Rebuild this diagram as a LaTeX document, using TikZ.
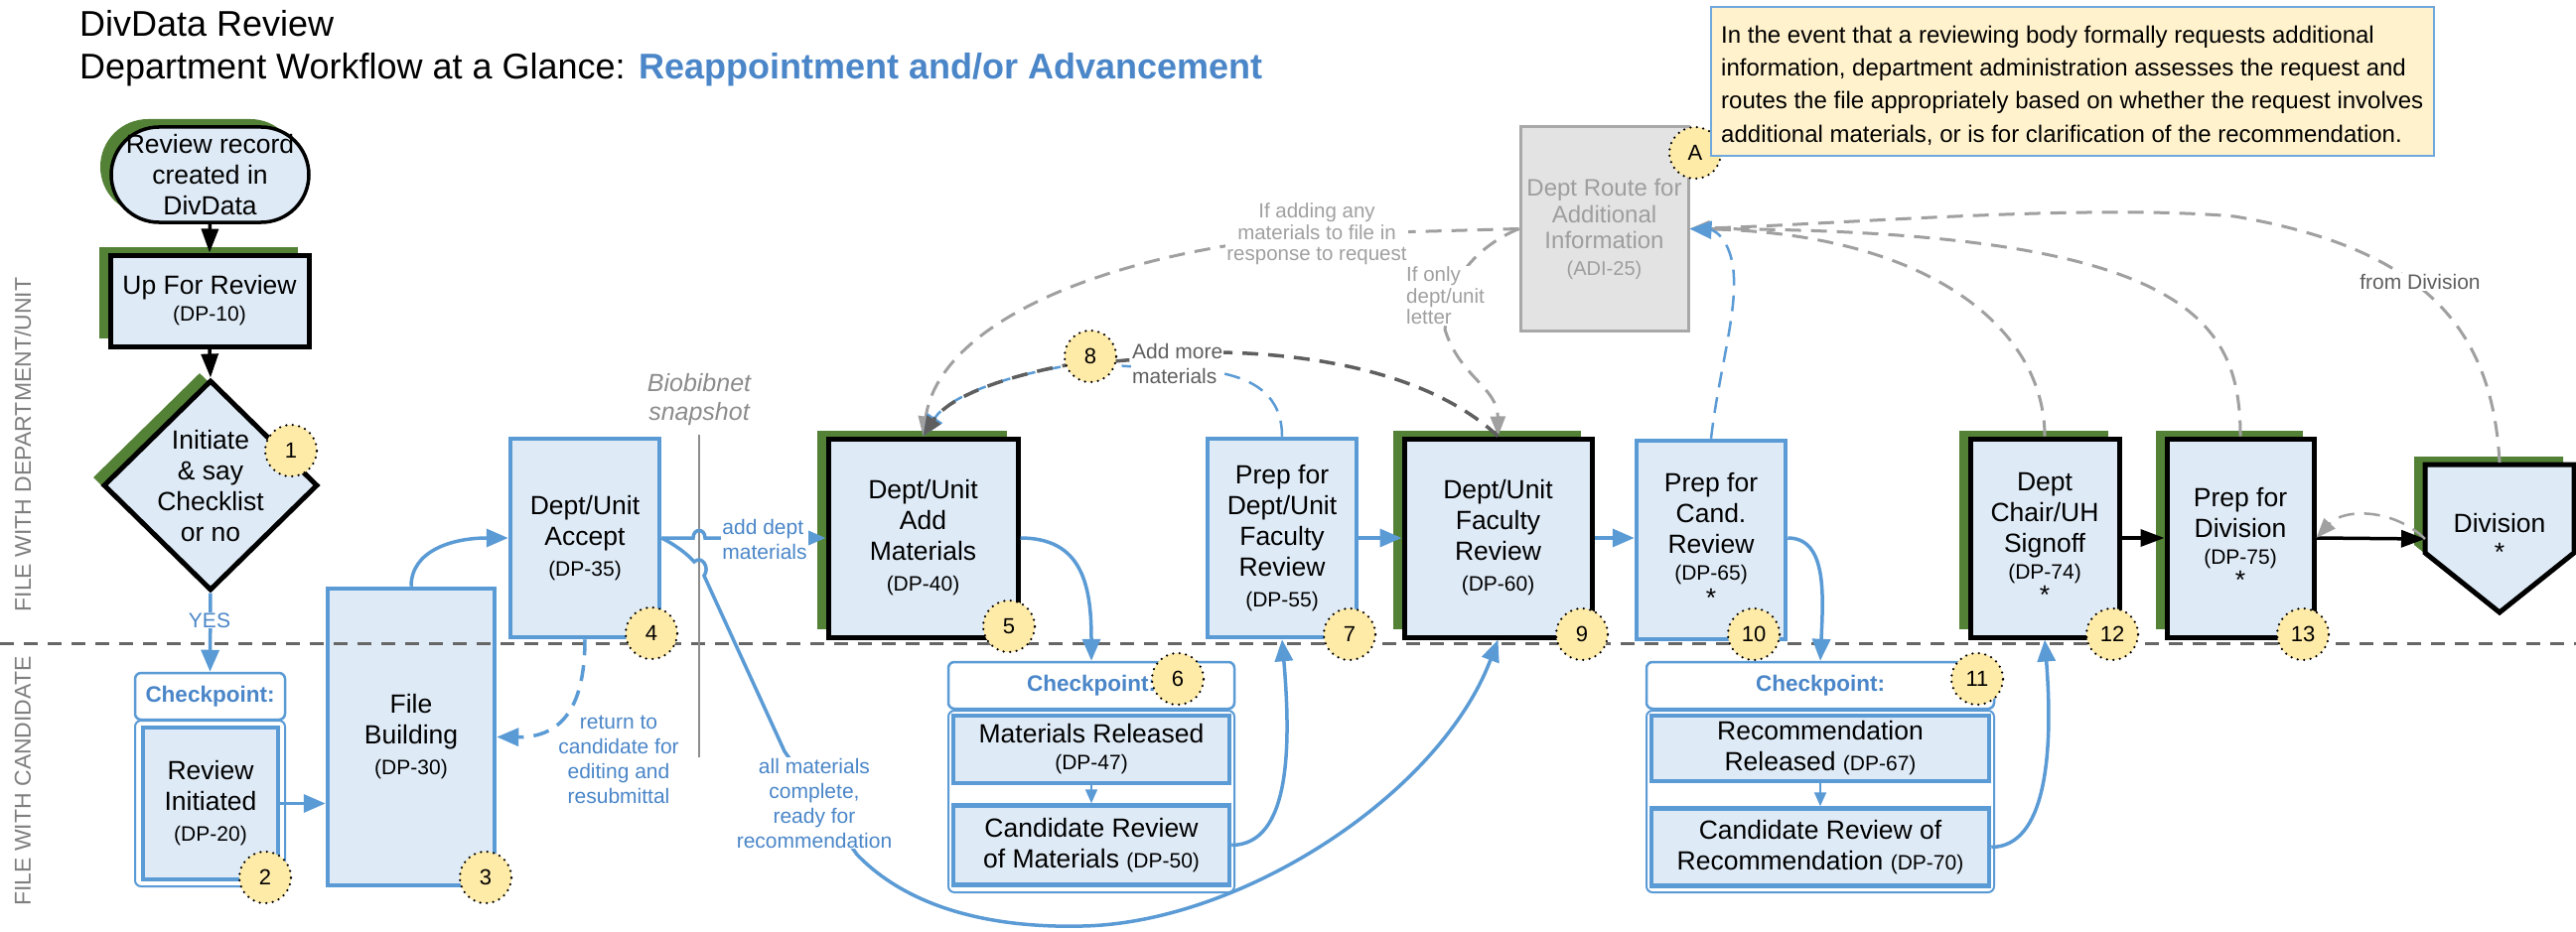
\documentclass[tikz,border=0pt]{standalone}
\usepackage{fontspec}
\setmainfont{Liberation Sans}
\usetikzlibrary{arrows.meta,shapes.geometric,shadows}
\definecolor{bfill}{HTML}{DEEAF6}
\definecolor{bblue}{HTML}{5B9BD5}
\definecolor{tblue}{HTML}{4A86C8}
\definecolor{gshad}{HTML}{538135}
\definecolor{badgey}{HTML}{FFEBA8}
\definecolor{notey}{HTML}{FFF2CC}
\definecolor{noteb}{HTML}{6FA8DC}
\definecolor{gline}{HTML}{A0A0A0}
\definecolor{dline}{HTML}{5F5F5F}
\definecolor{adifill}{HTML}{E3E3E3}
\definecolor{adibord}{HTML}{A8A8A8}
\definecolor{aditext}{HTML}{9E9E9E}
\definecolor{sepc}{HTML}{666666}
\definecolor{lanec}{HTML}{7F7F7F}
\definecolor{bbnc}{HTML}{8C8C8C}
\newcommand\dpf{\fontsize{21}{26}\selectfont}
\begin{document}
\begin{tikzpicture}[x=1pt,y=-1pt,
  boxfont/.style={font=\fontsize{26.5}{31}\selectfont},
  bluebox/.style={draw=bblue, line width=4.5pt, fill=bfill, align=center, inner sep=2pt, boxfont},
  blackbox/.style={draw=black, line width=5pt, fill=bfill, align=center, inner sep=2pt, boxfont,
     general shadow={fill=gshad, shadow xshift=-11pt, shadow yshift=8pt}},
  ckhead/.style={draw=bblue, line width=2.5pt, fill=white, rounded corners=6pt, text=tblue,
     font=\bfseries\fontsize{22.5}{26}\selectfont},
  ckbody/.style={draw=bblue, line width=2pt, fill=white, rounded corners=6pt},
  inbox/.style={draw=bblue, line width=4.5pt, fill=bfill, align=center, inner sep=2pt, boxfont},
  badge/.style={circle, fill=badgey, draw=black, line width=2.5pt, line cap=round,
     dash pattern=on 0pt off 6.5pt, minimum size=52pt, inner sep=0pt, font=\fontsize{22}{26}\selectfont},
  barrow/.style={draw=bblue, line width=3.5pt, -{Triangle[length=22pt,width=18pt]}},
  bdash/.style={barrow, dash pattern=on 16pt off 10pt},
  karrow/.style={draw=black, line width=3.5pt, -{Triangle[length=24pt,width=17pt]}},
  gdash/.style={draw=gline, line width=3pt, dash pattern=on 16pt off 10pt, -{Triangle[length=20pt,width=15pt]}},
  ddash/.style={draw=dline, line width=3.5pt, dash pattern=on 16pt off 10pt, -{Triangle[length=20pt,width=16pt]}},
  tlabel/.style={text=tblue, font=\fontsize{21}{25}\selectfont, align=center, inner sep=1pt},
  glabel/.style={text=gline, font=\fontsize{20.5}{21.5}\selectfont, inner sep=1pt, fill=white},
  lanelab/.style={rotate=90, text=lanec, font=\fontsize{23}{27}\selectfont}
]
\useasboundingbox (0,0) rectangle (2594,939);
\fill[white] (0,0) rectangle (2594,939);

% titles
\node[anchor=base west, font=\fontsize{36}{43}\selectfont, inner sep=0pt] (title1) at (80,37) {DivData Review};
\node[anchor=base west, font=\fontsize{36}{43}\selectfont, inner sep=0pt] (title2) at (80,80)
  {Department Workflow at a Glance: \textcolor{tblue}{\bfseries Reappointment and/or Advancement}};

% lane labels
\node[lanelab] (lane1) at (23,448) {FILE WITH DEPARTMENT/UNIT};
\node[lanelab] (lane2) at (23,787) {FILE WITH CANDIDATE};

% left column
\node[blackbox, rounded corners=48pt, line width=3.5pt, minimum width=199pt, minimum height=96pt] (term) at (211.5,176)
  {Review record\\created in\\DivData};
\node[blackbox, minimum width=200pt, minimum height=92pt] (upr) at (211,303) {Up For Review\\[-4pt]{\dpf (DP-10)}};
\node[blackbox, diamond, minimum width=216pt, minimum height=212pt, inner sep=0pt] (diam) at (212,489) {};
\node[align=center, boxfont, inner sep=0pt] (diamtxt) at (212,490) {Initiate\\\& say\\Checklist\\or no};

% checkpoint 2
\node[ckbody, minimum width=151pt, minimum height=167pt] (ckb2) at (211.5,809.5) {};
\node[ckhead, minimum width=151pt, minimum height=47pt] (ckh2) at (211.5,701.5) {Checkpoint:};
\node[inbox, minimum width=136pt, minimum height=153pt] (ri) at (212,809.5) {Review\\Initiated\\{\dpf (DP-20)}};

% file building / accept
\node[bluebox, minimum width=168pt, minimum height=299pt] (fb) at (414,742.5) {File\\Building\\{\dpf (DP-30)}};
\node[bluebox, minimum width=150pt, minimum height=200pt] (acc) at (589,542) {Dept/Unit\\Accept\\{\dpf (DP-35)}};
\node[blackbox, minimum width=191pt, minimum height=200pt] (addm) at (929.5,542) {Dept/Unit\\Add\\Materials\\{\dpf (DP-40)}};

% checkpoint 6
\node[ckbody, minimum width=288pt, minimum height=183pt] (ckb6) at (1099,807.5) {};
\node[ckhead, minimum width=288pt, minimum height=47pt] (ckh6) at (1099,690.5) {Checkpoint:};
\node[inbox, minimum width=278pt, minimum height=68pt] (mr) at (1099,755) {Materials Released\\[-4pt]{\dpf (DP-47)}};
\node[inbox, minimum width=278pt, minimum height=80pt] (crm) at (1099,851.5) {Candidate Review\\of Materials {\dpf (DP-50)}};

% middle boxes
\node[bluebox, minimum width=150pt, minimum height=200pt] (dp55) at (1291,542) {Prep for\\Dept/Unit\\Faculty\\Review\\{\dpf (DP-55)}};
\node[blackbox, minimum width=189pt, minimum height=200pt] (dp60) at (1508.5,542) {Dept/Unit\\Faculty\\Review\\{\dpf (DP-60)}};
\node[bluebox, minimum width=150pt, minimum height=200pt] (dp65) at (1723,544) {Prep for\\Cand.\\Review\\[-4pt]{\dpf (DP-65)}\\[-4pt]*};

% checkpoint 11
\node[ckbody, minimum width=350pt, minimum height=183pt] (ckb11) at (1833,807.5) {};
\node[ckhead, minimum width=350pt, minimum height=47pt] (ckh11) at (1833,690.5) {Checkpoint:};
\node[inbox, minimum width=340pt, minimum height=66pt] (rr) at (1833,754) {Recommendation\\Released {\dpf (DP-67)}};
\node[inbox, minimum width=340pt, minimum height=78pt] (crr) at (1833,853.5) {Candidate Review of\\Recommendation {\dpf (DP-70)}};

% right boxes
\node[blackbox, minimum width=150pt, minimum height=200pt] (dp74) at (2059,542) {Dept\\Chair/UH\\Signoff\\[-4pt]{\dpf (DP-74)}\\[-6pt]*};
\node[blackbox, minimum width=148pt, minimum height=200pt] (dp75) at (2256,542) {Prep for\\Division\\[-4pt]{\dpf (DP-75)}\\[-6pt]*};
\fill[gshad, shift={(-11,-8)}] (2442,468) -- (2592,468) -- (2592,557) -- (2517,617) -- (2442,557) -- cycle;
\draw[black, line width=5pt, fill=bfill, line join=miter] (2442,468) -- (2592,468) -- (2592,557) -- (2517,617) -- (2442,557) -- cycle;
\node[align=center, boxfont, inner sep=0pt] (div) at (2517,541) {Division\\[-2pt]*};
\coordinate (divW) at (2442,543);
\coordinate (divN) at (2517,466);

% ADI box
\node[draw=adibord, line width=3pt, fill=adifill, minimum width=169pt, minimum height=205pt] (adi) at (1615.5,230.5) {};
\node[text=aditext, align=center, font=\fontsize{24}{26.5}\selectfont, inner sep=0pt] (aditxt) at (1615.5,231)
  {Dept Route for\\Additional\\Information\\{\fontsize{20}{24}\selectfont (ADI-25)}};

% separator
\coordinate (sepL) at (0,648);
\coordinate (sepR) at (2594,648);
\draw[sepc, line width=3pt, dash pattern=on 14pt off 10pt] (sepL) -- (sepR);

% biobibnet line
\coordinate (bbT) at (704,438);
\coordinate (bbB) at (704,763);
\draw[bbnc, line width=2.5pt] (bbT) -- (bbB);
\node[text=bbnc, font=\itshape\fontsize{25}{29}\selectfont, align=center] (bbn) at (704,403) {Biobibnet\\snapshot};

% black connectors
\draw[karrow] (term.south) -- (upr.north);
\draw[karrow] (upr.south) -- (diam.north);
\draw[karrow] (dp74.east) -- (dp75.west);
\draw[karrow] (dp75.east) -- (divW);

% blue connectors
\draw[barrow] (diam.south) -- (ckh2.north);
\draw[barrow] (ri.east) -- (ri.east -| fb.west);
\draw[barrow] (fb.north) .. controls (414,555) and (455,542) .. (acc.west);
\draw[bdash] (acc.south) .. controls (589,720) and (560,743) .. (fb.east);
\draw[barrow] (acc.east) -- (698,542) .. controls (698,532) and (710,532) .. (710,542) -- (addm.west);
\draw[barrow] (acc.east) .. controls (680,549) and (692,558) .. (699,566) .. controls (707,559) and (715,572) .. (709,580)
   -- (790,757) -- (863,861) .. controls (920,920) and (1010,935) .. (1090,933) .. controls (1250,930) and (1450,800) .. (dp60.south);
\draw[barrow] (addm.east) .. controls (1090,542) and (1099,590) .. (ckh6.north);
\draw[draw=bblue, line width=2pt, -{Triangle[length=14pt,width=12pt]}] (mr.south) -- (crm.north);
\draw[barrow] (crm.east) .. controls (1300,851) and (1300,750) .. (dp55.south);
\draw[barrow] (dp55.east) -- (dp60.west);
\draw[barrow] (dp60.east) -- (dp65.west |- dp60.east);
\draw[barrow] (dp65.east |- dp60.east) .. controls (1840,542) and (1836,600) .. (ckh11.north);
\draw[draw=bblue, line width=2pt, -{Triangle[length=14pt,width=12pt]}] (rr.south) -- (crr.north);
\draw[barrow] (crr.east) .. controls (2060,853) and (2068,760) .. (dp74.south);

% dashed to ADI
\draw[gdash] (dp74.north) .. controls (2059,330) and (1940,235) .. (adi.east);
\draw[gdash] (dp75.north) .. controls (2256,320) and (2200,232) .. (adi.east);
\draw[gdash] (divN) .. controls (2510,330) and (2440,250) .. (2250,218) .. controls (2100,205) and (1850,226) .. (adi.east);
\draw[bdash, line width=2.5pt] (dp65.north) .. controls (1730,380) and (1748,320) .. (1746,280) .. controls (1745,245) and (1728,232) .. (adi.east);

% dashed from ADI
\draw[gdash] (adi.west) -- (1330,236) .. controls (1100,255) and (945,330) .. (addm.north);
\draw[gdash] (adi.west) .. controls (1495,245) and (1470,270) .. (1460,300) -- (1455,332) .. controls (1470,380) and (1508,390) .. (dp60.north);

% add more materials loops
\draw[bdash, line width=2.5pt] (dp55.north) .. controls (1291,400) and (1265,382) .. (1225,375) -- (1090,366) .. controls (1010,378) and (955,400) .. (addm.north);
\draw[ddash] (dp60.north) .. controls (1450,385) and (1350,358) .. (1231,355) -- (1073,368) .. controls (1010,380) and (955,400) .. (addm.north);

% division back arc
\draw[gdash, line width=2.5pt] (divW) .. controls (2410,512) and (2360,512) .. (dp75.east);

% labels
\node[tlabel, fill=white] (yes) at (211,625) {YES};
\node[tlabel] (retlab) at (623,765) {return to\\candidate for\\editing and\\resubmittal};
\node[tlabel, fill=white, align=left] (adddept) at (770,543) {add dept\\materials};
\node[tlabel, fill=white] (alllab) at (820,809) {all materials\\complete,\\ready for\\recommendation};
\node[glabel, align=center] (ifadd) at (1326,236) {If adding any\\materials to file in\\response to request};
\node[glabel, align=left, anchor=west] (ifonly) at (1415,298) {If only\\dept/unit\\letter};
\node[text=dline, fill=white, align=left, anchor=west, font=\fontsize{21}{25}\selectfont, inner sep=1pt] (addmore) at (1139,366) {Add more\\materials};
\node[text=dline, fill=white, font=\fontsize{21}{25}\selectfont, inner sep=1pt] (fromdiv) at (2437,284) {from Division};

% badges
\node[badge] (b1) at (293,454) {1};
\node[badge] (b2) at (267,884) {2};
\node[badge] (b3) at (489,884) {3};
\node[badge] (b4) at (656,638) {4};
\node[badge] (b5) at (1016,631) {5};
\node[badge] (b6) at (1186,684) {6};
\node[badge] (b7) at (1359,639) {7};
\node[badge] (b8) at (1098,359) {8};
\node[badge] (b9) at (1593,639) {9};
\node[badge] (b10) at (1766,639) {10};
\node[badge] (b11) at (1991,684) {11};
\node[badge] (b12) at (2127,639) {12};
\node[badge] (b13) at (2319,639) {13};
\node[badge] (bA) at (1707,154) {A};

% note
\node[draw=noteb, line width=2pt, fill=notey, minimum width=728pt, minimum height=150pt] (note) at (2087,82) {};
\node[anchor=west, align=left, font=\fontsize{24}{33.4}\selectfont, inner sep=0pt] (notetxt) at (1733,86)
 {In the event that a reviewing body formally requests additional\\information, department administration assesses the request and\\routes the file appropriately based on whether the request involves\\additional materials, or is for clarification of the recommendation.};
\end{tikzpicture}
\end{document}
